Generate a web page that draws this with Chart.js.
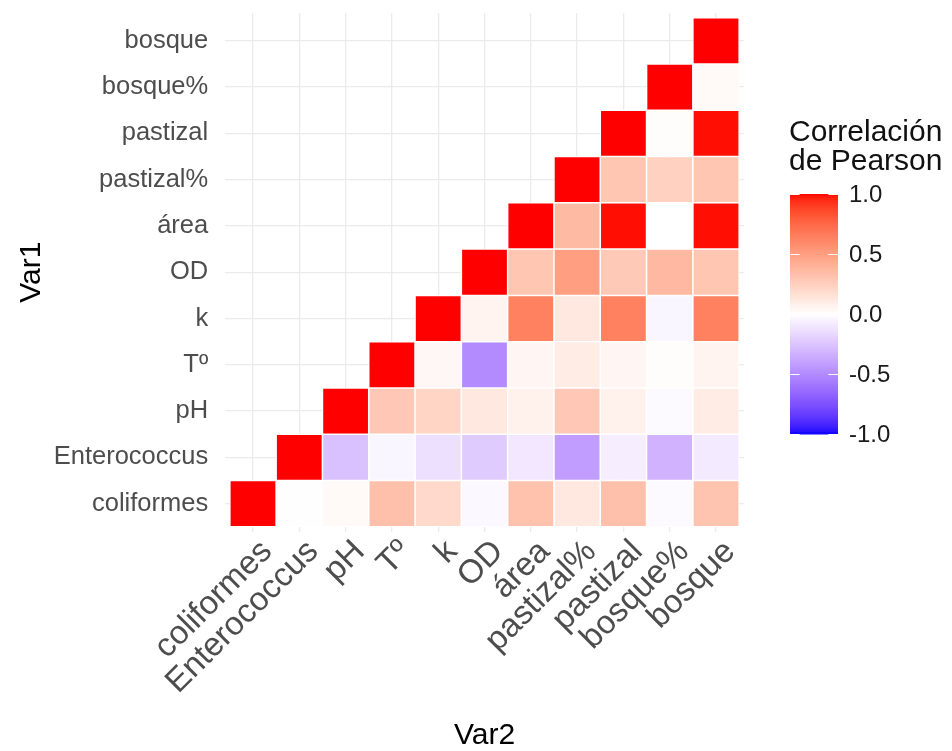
<!DOCTYPE html>
<html>
<head>
<meta charset="utf-8">
<script src="https://cdn.jsdelivr.net/npm/chart.js@4.4.1/dist/chart.umd.min.js"></script>
<style>
  html, body { margin: 0; padding: 0; background: #ffffff; }
  #wrap { width: 952px; height: 751px; }
</style>
</head>
<body>
<div id="wrap"><canvas id="heat" width="952" height="751"></canvas></div>
<script>
// Variables, in axis order (bottom-to-top on Var1, left-to-right on Var2)
const variables = ['coliformes', 'Enterococcus', 'pH', 'T\u00ba', 'k', 'OD', '\u00e1rea', 'pastizal%', 'pastizal', 'bosque%', 'bosque'];

// Pearson correlations, upper triangle: each row starts at its own diagonal
const rColiformes   = [1, -0.01, 0.03, 0.33, 0.20, -0.03, 0.32, 0.12, 0.33, -0.02, 0.31];
const rEnterococcus = [1, -0.27, -0.04, -0.13, -0.22, -0.10, -0.42, -0.07, -0.33, -0.09];
const rPH           = [1, 0.29, 0.22, 0.12, 0.07, 0.29, 0.07, -0.02, 0.10];
const rTemp         = [1, 0.04, -0.50, 0.05, 0.10, 0.05, 0.01, 0.06];
const rK            = [1, 0.06, 0.64, 0.12, 0.64, -0.04, 0.64];
const rOD           = [1, 0.30, 0.50, 0.28, 0.37, 0.30];
const rArea         = [1, 0.36, 0.99, 0.00, 0.99];
const rPastizalPct  = [1, 0.30, 0.24, 0.30];
const rPastizal     = [1, 0.01, 0.99];
const rBosquePct    = [1, 0.03];
const rBosque       = [1];

const correlationRows = [rColiformes, rEnterococcus, rPH, rTemp, rK, rOD, rArea, rPastizalPct, rPastizal, rBosquePct, rBosque];

// Colour bar breaks
const legendBreaks = [1.0, 0.5, 0.0, -0.5, -1.0];
const legendTitle = ['Correlaci\u00f3n', 'de Pearson'];

// ---- blue / white / red diverging palette interpolated in CIE Lab ----
function toLinear(c) { c /= 255; return c <= 0.04045 ? c / 12.92 : Math.pow((c + 0.055) / 1.055, 2.4); }
function fromLinear(c) {
  c = c <= 0.0031308 ? 12.92 * c : 1.055 * Math.pow(c, 1 / 2.4) - 0.055;
  return Math.round(Math.max(0, Math.min(1, c)) * 255);
}
const WX = 0.95047, WY = 1.0, WZ = 1.08883;
function labF(t) { return t > 216 / 24389 ? Math.cbrt(t) : (24389 / 27 * t + 16) / 116; }
function labFi(f) { const f3 = f * f * f; return f3 > 216 / 24389 ? f3 : (116 * f - 16) / (24389 / 27); }
function rgbToLab(rgb) {
  const r = toLinear(rgb[0]), g = toLinear(rgb[1]), b = toLinear(rgb[2]);
  const X = 0.4124564 * r + 0.3575761 * g + 0.1804375 * b;
  const Y = 0.2126729 * r + 0.7151522 * g + 0.0721750 * b;
  const Z = 0.0193339 * r + 0.1191920 * g + 0.9503041 * b;
  const fx = labF(X / WX), fy = labF(Y / WY), fz = labF(Z / WZ);
  return [116 * fy - 16, 500 * (fx - fy), 200 * (fy - fz)];
}
function labToRgb(lab) {
  const fy = (lab[0] + 16) / 116, fx = fy + lab[1] / 500, fz = fy - lab[2] / 200;
  const X = WX * labFi(fx), Y = WY * labFi(fy), Z = WZ * labFi(fz);
  const r = 3.2404542 * X - 1.5371385 * Y - 0.4985314 * Z;
  const g = -0.9692660 * X + 1.8760108 * Y + 0.0415560 * Z;
  const b = 0.0556434 * X - 0.2040259 * Y + 1.0572252 * Z;
  return [fromLinear(r), fromLinear(g), fromLinear(b)];
}
const LAB_LOW = rgbToLab([0, 0, 255]);
const LAB_MID = rgbToLab([255, 255, 255]);
const LAB_HIGH = rgbToLab([255, 0, 0]);
function fillColor(v) {
  const t = Math.max(-1, Math.min(1, v));
  const end = t >= 0 ? LAB_HIGH : LAB_LOW;
  const a = Math.abs(t);
  const lab = [0, 1, 2].map(k => LAB_MID[k] + (end[k] - LAB_MID[k]) * a);
  const c = labToRgb(lab);
  return 'rgb(' + c[0] + ',' + c[1] + ',' + c[2] + ')';
}

// ---- tiles: one floating bar per cell, spanning one unit on the Var1 axis ----
const cells = [];
correlationRows.forEach((row, i) => {
  row.forEach((v, k) => {
    cells.push({ x: i + k, y: [i - 0.5, i + 0.5], r: v });
  });
});

const FONT = "'Liberation Sans', Arial, 'DejaVu Sans', sans-serif";
const categoryTicks = s => { s.ticks = variables.map((_, i) => ({ value: i })); };

// Continuous colour bar legend on the right
const colorbarLegend = {
  id: 'colorbarLegend',
  afterDraw(chart) {
    const ctx = chart.ctx;
    const barX = 790, barW = 48, barTop = 194, barBottom = 434;
    const yOf = v => (barTop + barBottom) / 2 - v * (barBottom - barTop) / 2;
    ctx.save();
    // title
    ctx.fillStyle = '#111111';
    ctx.font = '30px ' + FONT;
    ctx.textAlign = 'left';
    ctx.textBaseline = 'alphabetic';
    ctx.fillText(legendTitle[0], 789, 141);
    ctx.fillText(legendTitle[1], 789, 170);
    // gradient bar
    const steps = 120;
    for (let s = 0; s < steps; s++) {
      const v0 = 1 - 2 * s / steps, v1 = 1 - 2 * (s + 1) / steps;
      ctx.fillStyle = fillColor((v0 + v1) / 2);
      const y0 = yOf(v0), y1 = yOf(v1);
      ctx.fillRect(barX, Math.floor(y0), barW, Math.ceil(y1) - Math.floor(y0) + 0.5);
    }
    // ticks and labels
    ctx.strokeStyle = '#ffffff';
    ctx.lineWidth = 1;
    ctx.font = '24px ' + FONT;
    ctx.fillStyle = '#1a1a1a';
    ctx.textBaseline = 'middle';
    legendBreaks.forEach(b => {
      const y = Math.round(yOf(b)) + 0.5;
      ctx.beginPath();
      ctx.moveTo(barX, y); ctx.lineTo(barX + barW / 5, y);
      ctx.moveTo(barX + barW - barW / 5, y); ctx.lineTo(barX + barW, y);
      ctx.stroke();
      ctx.fillText(b.toFixed(1), 849, y + 1);
    });
    ctx.restore();
  }
};

new Chart(document.getElementById('heat'), {
  type: 'bar',
  data: {
    datasets: [{
      data: cells,
      backgroundColor: c => (c.raw ? fillColor(c.raw.r) : 'rgba(0,0,0,0)'),
      borderColor: '#ffffff',
      borderWidth: 1.1,
      borderSkipped: false,
      barPercentage: 1,
      categoryPercentage: 1
    }]
  },
  options: {
    responsive: false,
    animation: false,
    events: [],
    layout: { padding: { top: 13, right: 208.2, left: 0, bottom: 0 } },
    plugins: { legend: { display: false }, tooltip: { enabled: false } },
    scales: {
      x: {
        type: 'linear',
        offset: false,
        min: -0.6,
        max: 10.6,
        afterBuildTicks: categoryTicks,
        afterFit: s => { s.height = 219.5; s.paddingLeft = 0; s.paddingRight = 0; },
        ticks: {
          autoSkip: false,
          minRotation: 45,
          maxRotation: 45,
          padding: 1,
          labelOffset: 14,
          color: '#4d4d4d',
          font: { family: FONT, size: 33 },
          callback: v => variables[v]
        },
        grid: { offset: false, color: '#ebebeb', lineWidth: 1.3, drawTicks: false },
        border: { display: false },
        title: { display: true, text: 'Var2', color: '#000000', font: { family: FONT, size: 30, lineHeight: 1 }, padding: { top: 0, bottom: 0 } }
      },
      y: {
        type: 'linear',
        min: -0.6,
        max: 10.6,
        afterBuildTicks: categoryTicks,
        afterFit: s => { s.width = 225.2; s.paddingTop = 0; s.paddingBottom = 0; },
        ticks: {
          autoSkip: false,
          padding: 17,
          color: '#4d4d4d',
          font: { family: FONT, size: 25.5 },
          callback: v => variables[v]
        },
        grid: { color: '#ebebeb', lineWidth: 1.3, drawTicks: false },
        border: { display: false },
        title: { display: true, text: 'Var1', color: '#000000', font: { family: FONT, size: 30 }, padding: { top: 14, bottom: 0 } }
      }
    }
  },
  plugins: [colorbarLegend]
});
</script>
</body>
</html>
